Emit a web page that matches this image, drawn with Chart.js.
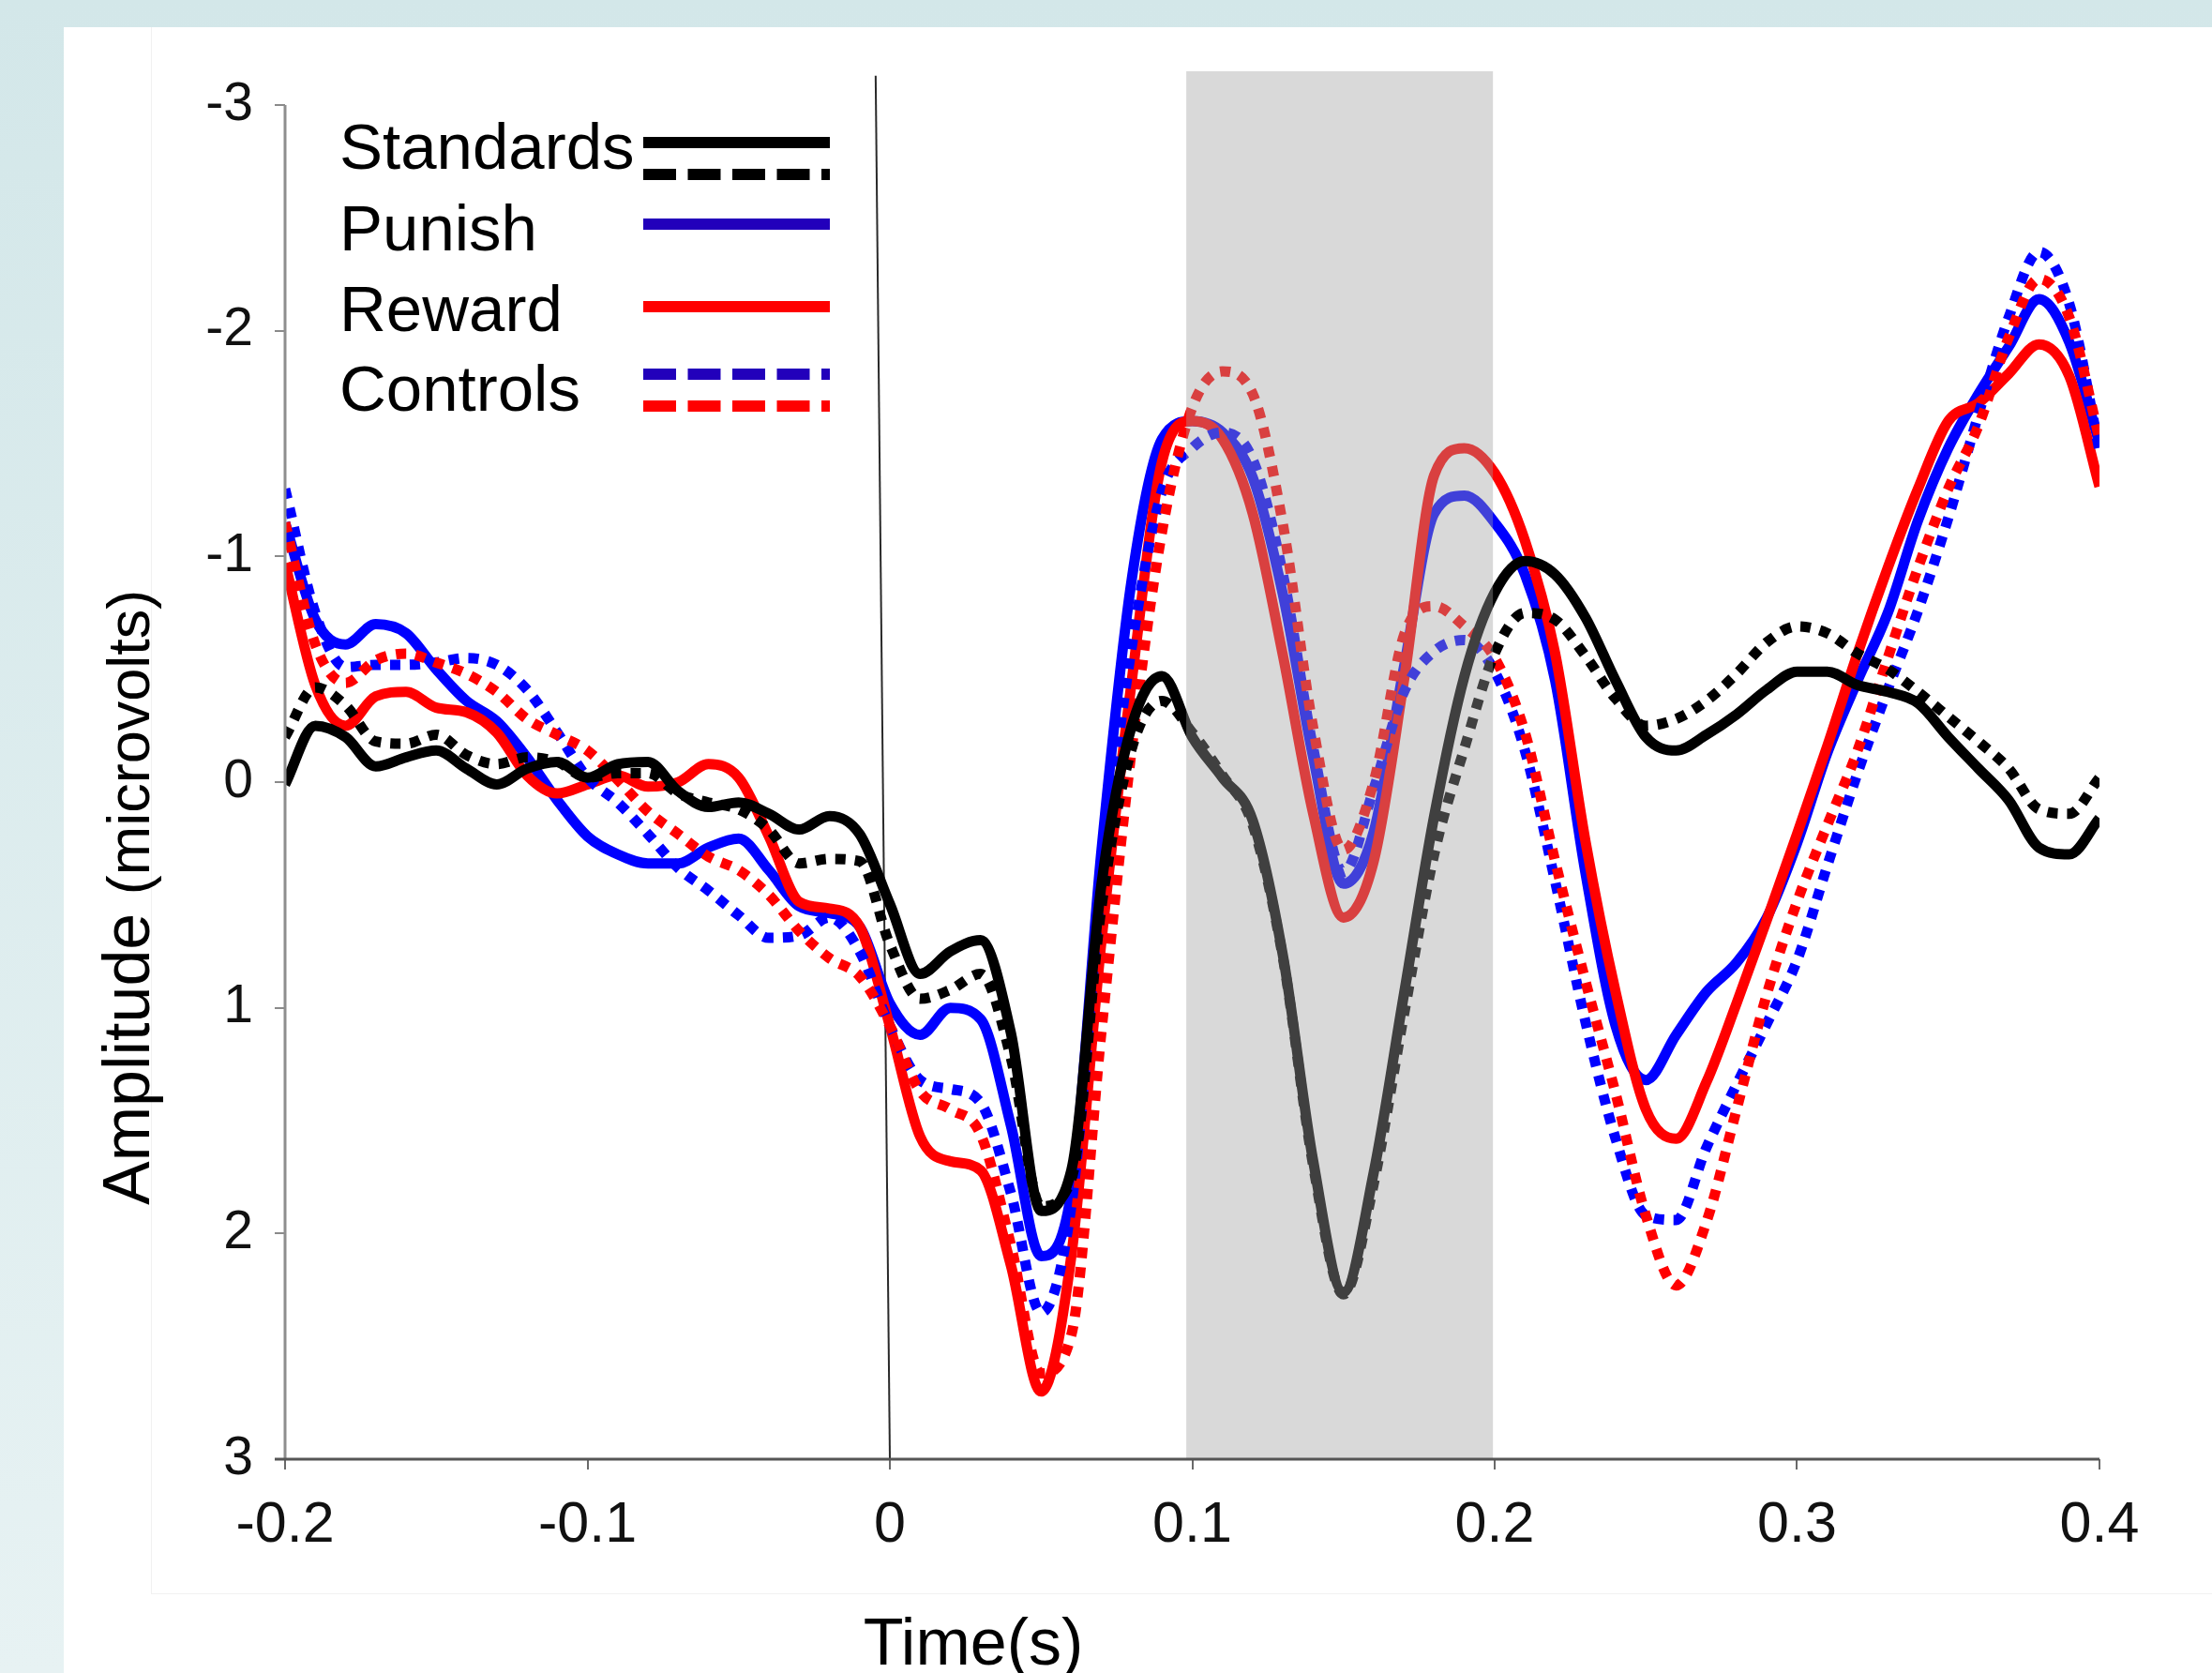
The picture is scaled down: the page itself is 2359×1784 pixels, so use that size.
<!DOCTYPE html>
<html>
<head>
<meta charset="utf-8">
<script src="https://cdn.jsdelivr.net/npm/chart.js@4.4.1/dist/chart.umd.min.js"></script>
<style>
html,body{margin:0;padding:0;width:2359px;height:1784px;overflow:hidden;}
body{background:linear-gradient(to bottom,#d3e7e9 0%,#e7f2f3 100%);position:relative;font-family:'Liberation Sans',Arial,sans-serif;}
#panel{position:absolute;left:68px;top:29px;right:0;bottom:0;background:#ffffff;}
#inner{position:absolute;left:161px;top:29px;right:0;height:1671px;border-left:1px solid #f1f1f1;border-bottom:1px solid #f1f1f1;box-sizing:border-box;}
#wrap{position:absolute;left:0;top:0;width:2359px;height:1784px;}
</style>
</head>
<body>
<div id="panel"></div>
<div id="inner"></div>
<div id="wrap"><canvas id="c" width="2359" height="1784"></canvas></div>
<script>
// ---- data (time in s, amplitude in microvolts) ----
const times = [-0.20,-0.19,-0.18,-0.17,-0.16,-0.15,-0.14,-0.13,-0.12,-0.11,
  -0.10,-0.09,-0.08,-0.07,-0.06,-0.05,-0.04,-0.03,-0.02,-0.01,
  0.00,0.01,0.02,0.03,0.04,0.05,0.06,0.07,0.08,0.09,
  0.10,0.11,0.12,0.13,0.14,0.15,0.16,0.17,0.18,0.19,
  0.20,0.21,0.22,0.23,0.24,0.25,0.26,0.27,0.28,0.29,
  0.30,0.31,0.32,0.33,0.34,0.35,0.36,0.37,0.38,0.39,
  0.40];

const standardsSolid = [0.01,-0.25,-0.20,-0.07,-0.11,-0.14,-0.06,0.01,-0.06,-0.09,
  -0.02,-0.08,-0.09,0.04,0.11,0.09,0.14,0.21,0.15,0.23,
  0.54,0.85,0.75,0.70,1.11,1.90,1.72,0.45,-0.25,-0.47,
  -0.20,-0.02,0.17,0.77,1.68,2.26,1.73,0.94,0.15,-0.47,
  -0.84,-0.98,-0.92,-0.73,-0.45,-0.20,-0.14,-0.21,-0.30,-0.41,
  -0.49,-0.49,-0.43,-0.40,-0.35,-0.20,-0.06,0.08,0.29,0.32,
  0.16];

const standardsControl = [-0.20,-0.42,-0.34,-0.18,-0.17,-0.21,-0.12,-0.08,-0.11,-0.09,
  -0.02,-0.04,-0.04,0.05,0.09,0.12,0.21,0.36,0.34,0.35,
  0.72,0.96,0.92,0.85,1.22,1.88,1.76,0.55,-0.15,-0.36,
  -0.22,-0.03,0.19,0.78,1.70,2.27,1.78,1.03,0.32,-0.15,
  -0.57,-0.75,-0.72,-0.56,-0.37,-0.25,-0.28,-0.36,-0.48,-0.62,
  -0.69,-0.66,-0.57,-0.50,-0.40,-0.29,-0.18,-0.06,0.12,0.14,
  -0.02];

const punish = [-1.15,-0.72,-0.61,-0.70,-0.66,-0.50,-0.36,-0.27,-0.11,0.08,
  0.24,0.32,0.36,0.36,0.29,0.25,0.39,0.55,0.58,0.64,
  0.98,1.12,1.00,1.05,1.52,2.10,1.82,0.30,-0.90,-1.52,
  -1.60,-1.55,-1.35,-0.83,-0.11,0.45,0.22,-0.51,-1.19,-1.27,
  -1.15,-0.92,-0.45,0.40,1.08,1.32,1.12,0.93,0.80,0.60,
  0.27,-0.13,-0.45,-0.75,-1.16,-1.48,-1.72,-1.93,-2.14,-1.95,
  -1.50];

const reward = [-0.97,-0.43,-0.25,-0.38,-0.40,-0.33,-0.31,-0.22,-0.03,0.05,
  0.01,-0.03,0.02,0.00,-0.08,-0.02,0.24,0.53,0.56,0.64,
  1.08,1.57,1.68,1.72,2.14,2.70,2.10,0.70,-0.45,-1.42,
  -1.60,-1.52,-1.19,-0.56,0.14,0.60,0.35,-0.45,-1.36,-1.48,
  -1.37,-1.07,-0.57,0.26,0.93,1.45,1.58,1.33,0.98,0.61,
  0.23,-0.16,-0.57,-0.95,-1.30,-1.60,-1.68,-1.81,-1.94,-1.80,
  -1.31];

const controlsPunish = [-1.30,-0.75,-0.51,-0.52,-0.52,-0.53,-0.55,-0.52,-0.41,-0.22,
  -0.02,0.09,0.23,0.38,0.48,0.59,0.69,0.68,0.60,0.75,
  1.08,1.32,1.36,1.42,1.82,2.35,1.88,0.45,-0.60,-1.29,
  -1.48,-1.55,-1.43,-0.92,-0.15,0.40,0.03,-0.40,-0.58,-0.63,
  -0.49,-0.14,0.44,1.06,1.58,1.92,1.94,1.62,1.34,1.07,
  0.79,0.37,-0.04,-0.41,-0.76,-1.17,-1.63,-2.06,-2.35,-2.12,
  -1.47];

const controlsReward = [-1.15,-0.61,-0.44,-0.54,-0.57,-0.53,-0.48,-0.40,-0.28,-0.21,
  -0.14,-0.01,0.13,0.23,0.33,0.39,0.50,0.66,0.78,0.86,
  1.08,1.37,1.45,1.56,2.05,2.62,2.45,1.10,-0.15,-1.11,
  -1.66,-1.82,-1.72,-1.14,-0.24,0.30,0.00,-0.65,-0.78,-0.69,
  -0.55,-0.22,0.35,0.88,1.38,1.92,2.23,1.95,1.45,0.94,
  0.53,0.19,-0.14,-0.55,-0.95,-1.30,-1.58,-1.97,-2.23,-2.06,
  -1.52];

const xTicks = [-0.2,-0.1,0,0.1,0.2,0.3,0.4];
const xTickLabels = ['-0.2','-0.1','0','0.1','0.2','0.3','0.4'];
const yTicks = [-3,-2,-1,0,1,2,3];
const yTickLabels = ['-3','-2','-1','0','1','2','3'];
const shadeWindow = [0.098, 0.1995];
const stimulusLineX = [-0.0047, 0];
const stimulusLineY = [-3.13, 3];
const legendLabels = ['Standards','Punish','Reward','Controls'];
const xTitle = 'Time(s)';
const yTitleMain = 'Amplitude ';
const yTitleUnit = '(microvolts)';

// ---- build chart ----
const FONT = "'Liberation Sans', Arial, Helvetica, sans-serif";
Chart.defaults.font.family = FONT;

const pts = arr => times.map((t, i) => ({x: t, y: arr[i]}));

function lineDs(label, arr, color, dashed, order) {
  return {
    label, data: pts(arr), borderColor: color, backgroundColor: color,
    borderWidth: 11, borderDash: dashed ? [11, 10] : [],
    borderCapStyle: 'butt', borderJoinStyle: 'round',
    pointRadius: 0, fill: false, tension: 0.4, cubicInterpolationMode: 'monotone', order
  };
}

const datasets = [
  {
    label: 'window',
    data: [{x: shadeWindow[0], y: -3.15}, {x: shadeWindow[1], y: -3.15}],
    borderColor: 'rgba(0,0,0,0)', borderWidth: 0, pointRadius: 0,
    backgroundColor: 'rgba(160,160,160,0.4)', fill: {value: 3}, order: 0
  },
  lineDs('Standards', standardsSolid, '#000000', false, 1),
  lineDs('Standards (controls)', standardsControl, '#000000', true, 2),
  lineDs('Controls (reward)', controlsReward, '#ff0000', true, 3),
  lineDs('Controls (punish)', controlsPunish, '#0000ff', true, 4),
  lineDs('Reward', reward, '#ff0000', false, 5),
  lineDs('Punish', punish, '#0000ff', false, 6),
  {
    label: 'onset',
    data: [{x: stimulusLineX[0], y: stimulusLineY[0]}, {x: stimulusLineX[1], y: stimulusLineY[1]}],
    borderColor: '#2a2a2a', borderWidth: 2, pointRadius: 0, tension: 0, fill: false, order: 7
  }
];

const decor = {
  id: 'decor',
  afterDraw(chart) {
    const {ctx, scales: {x, y}} = chart;
    ctx.save();
    // axis lines
    const x0 = x.getPixelForValue(xTicks[0]);
    const x1 = x.getPixelForValue(xTicks[xTicks.length - 1]);
    const yt = y.getPixelForValue(yTicks[0]);
    const yb = y.getPixelForValue(yTicks[yTicks.length - 1]);
    ctx.lineCap = 'butt';
    ctx.strokeStyle = '#8e8e8e'; ctx.lineWidth = 3;
    ctx.beginPath(); ctx.moveTo(x0, yt); ctx.lineTo(x0, yb); ctx.stroke();
    ctx.strokeStyle = '#555555';
    ctx.beginPath(); ctx.moveTo(x0 - 11, yb); ctx.lineTo(x1, yb); ctx.stroke();

    // legend
    ctx.fillStyle = '#000';
    ctx.font = '69px ' + FONT;
    ctx.textAlign = 'left'; ctx.textBaseline = 'alphabetic';
    const lx = 362, sx0 = 686, sx1 = 885;
    const baselines = [180, 267, 353, 438];
    legendLabels.forEach((lab, i) => ctx.fillText(lab, lx, baselines[i]));
    const samples = [
      {y: 152, c: '#000000', d: []},
      {y: 186, c: '#000000', d: [35, 12.5]},
      {y: 239, c: '#2200bb', d: []},
      {y: 327, c: '#ff0000', d: []},
      {y: 399, c: '#2200bb', d: [35, 12.5]},
      {y: 433, c: '#ff0000', d: [35, 12.5]}
    ];
    ctx.lineWidth = 12;
    samples.forEach(s => {
      ctx.strokeStyle = s.c; ctx.setLineDash(s.d);
      ctx.beginPath(); ctx.moveTo(sx0, s.y); ctx.lineTo(sx1, s.y); ctx.stroke();
    });
    ctx.setLineDash([]);

    // x title
    ctx.font = '70px ' + FONT;
    ctx.textAlign = 'center';
    ctx.fillText(xTitle, 1038, 1775);

    // y title (rotated)
    ctx.translate(159, 945);
    ctx.rotate(-Math.PI / 2);
    ctx.textAlign = 'left';
    ctx.font = '70px ' + FONT;
    let start = -340;
    ctx.fillText(yTitleMain, start, 0);
    start += ctx.measureText(yTitleMain).width;
    ctx.font = '63px ' + FONT;
    ctx.fillText(yTitleUnit, start, 0);
    ctx.restore();
  }
};

new Chart(document.getElementById('c'), {
  type: 'line',
  data: {datasets},
  options: {
    responsive: false,
    animation: false,
    events: [],
    layout: {padding: {top: 76, right: 120, left: 0, bottom: 0}},
    plugins: {legend: {display: false}, tooltip: {enabled: false}},
    scales: {
      x: {
        type: 'linear', min: -0.2, max: 0.4,
        afterBuildTicks: s => { s.ticks = xTicks.map(v => ({value: v})); },
        afterFit: s => { s.height = 228; },
        grid: {drawOnChartArea: false, drawTicks: true, tickLength: 11, color: '#6a6a6a', lineWidth: 2},
        border: {display: false},
        ticks: {
          font: {size: 61}, color: '#111', padding: 24, maxRotation: 0, autoSkip: false,
          callback: (v, i) => xTickLabels[i]
        }
      },
      y: {
        type: 'linear', min: -3.15, max: 3, reverse: true,
        afterBuildTicks: s => { s.ticks = yTicks.map(v => ({value: v})); },
        afterFit: s => { s.width = 304; },
        grid: {drawOnChartArea: false, drawTicks: true, tickLength: 11, color: '#8a8a8a', lineWidth: 2},
        border: {display: false},
        ticks: {
          font: {size: 57}, color: '#111', padding: 23, autoSkip: false,
          callback: (v, i) => yTickLabels[i]
        }
      }
    }
  },
  plugins: [decor]
});
</script>
</body>
</html>
